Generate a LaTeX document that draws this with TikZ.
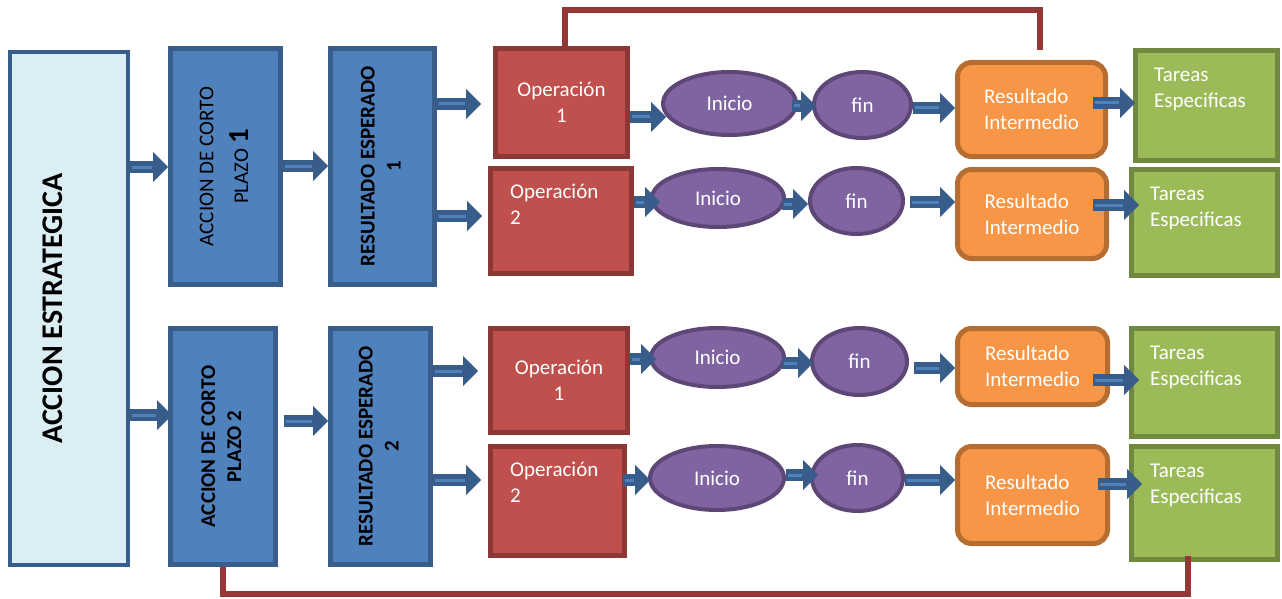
\documentclass[tikz,border=0pt]{standalone}
\usepackage{fontspec}
\setmainfont{Carlito}
\usepackage{graphicx}
\usetikzlibrary{shapes.geometric,arrows.meta}

\definecolor{celeste}{RGB}{219,238,244}
\definecolor{azulborde}{RGB}{56,93,138}
\definecolor{azul}{RGB}{79,129,189}
\definecolor{rojo}{RGB}{192,80,77}
\definecolor{rojoborde}{RGB}{140,56,54}
\definecolor{granate}{RGB}{149,55,53}
\definecolor{morado}{RGB}{128,100,162}
\definecolor{moradoborde}{RGB}{92,71,118}
\definecolor{naranja}{RGB}{247,150,70}
\definecolor{naranjaborde}{RGB}{182,109,49}
\definecolor{verde}{RGB}{155,187,89}
\definecolor{verdeborde}{RGB}{113,137,63}

\newcommand{\letra}{\fontsize{21}{26}\selectfont}
\newcommand{\vertical}[1]{\rotatebox{90}{\begin{tabular}{@{}c@{}}#1\end{tabular}}}

\begin{document}
\begin{tikzpicture} [x=1pt, y=-1pt,
				estrategia/.style={
				% The shape:
				rectangle,
				% The border:
				line width=4pt, draw=azulborde,
				% The filling:
				fill=celeste
				},
				accion/.style={
				% The shape:
				rectangle,
				% The border:
				line width=5pt, draw=azulborde,
				% The filling:
				fill=azul,
				font=\letra
				},
				operacion/.style={
				% The shape:
				rectangle,
				% The border:
				line width=5pt, draw=rojoborde,
				% The filling:
				fill=rojo,
				text=white, align=center, font=\letra
				},
				evento/.style={
				% The shape:
				ellipse, inner sep=0pt,
				% The border:
				line width=4pt, draw=moradoborde,
				% The filling:
				fill=morado,
				text=white, font=\letra
				},
				intermedio/.style={
				% The shape:
				rectangle, rounded corners=14pt,
				% The border:
				line width=5pt, draw=naranjaborde,
				% The filling:
				fill=naranja,
				text=white, align=left, font=\letra
				},
				tarea/.style={
				% The shape:
				rectangle,
				% The border:
				line width=5pt, draw=verdeborde,
				% The filling:
				fill=verde
				},
				etiqueta/.style={anchor=north west, inner sep=0pt, text=white, align=left, font=\letra},
				flecha/.style={draw=azulborde, line width=12pt,
				-{Triangle[length=15pt,width=30pt,line width=0pt]},
				postaction={draw=azul, line width=3pt, -, shorten >=16pt, shorten <=2pt}},
				enlace/.style={draw=granate, line width=6pt}
				]
    \useasboundingbox (0,0) rectangle (1282,599);

    % columna izquierda
    \node[estrategia, minimum width=118pt, minimum height=513pt] (ae) at (69,308.5) {};
    \node[rotate=90, font=\bfseries\fontsize{30}{30}\selectfont] (aetexto) at ([xshift=-16pt]ae.center) {ACCION ESTRATEGICA};

    \node[accion, minimum width=110pt, minimum height=236pt] (ac1) at (225.5,166.5)
        {\vertical{ACCION DE CORTO\\[8pt]PLAZO {\bfseries\fontsize{29}{29}\selectfont 1}}};
    \node[accion, font=\letra\bfseries, minimum width=104pt, minimum height=236pt] (re1) at (382.5,166.5)
        {\vertical{RESULTADO ESPERADO\\1}};
    \node[accion, font=\letra\bfseries, minimum width=105pt, minimum height=236pt] (ac2) at (223,446.5)
        {\vertical{ACCION DE CORTO\\PLAZO 2}};
    \node[accion, font=\letra\bfseries, minimum width=100pt, minimum height=236pt] (re2) at (380.5,446.5)
        {\vertical{RESULTADO ESPERADO\\2}};

    % operaciones
    \node[operacion, minimum width=132pt, minimum height=108pt] (op1) at (561.5,102.5) {Operación\\1};
    \node[operacion, minimum width=141pt, minimum height=105pt] (op2) at (561,221) {};
    \node[etiqueta] (op2texto) at ([shift={(22,18)}]op2.north west) {Operación\\2};
    \node[operacion, minimum width=137pt, minimum height=104pt] (op3) at (559,380.5) {Operación\\1};
    \node[operacion, minimum width=134pt, minimum height=109pt] (op4) at (557.5,501) {};
    \node[etiqueta] (op4texto) at ([shift={(22,18)}]op4.north west) {Operación\\2};

    % inicio y fin
    \node[evento, minimum width=133pt, minimum height=63pt] (ini1) at (729.5,103.5) {Inicio};
    \node[evento, minimum width=97pt, minimum height=66pt] (fin1) at (862.5,105) {fin};
    \node[evento, minimum width=132pt, minimum height=58pt] (ini2) at (718,198) {Inicio};
    \node[evento, minimum width=93pt, minimum height=66pt] (fin2) at (856.5,201) {fin};
    \node[evento, minimum width=133pt, minimum height=59pt] (ini3) at (717.5,357.5) {Inicio};
    \node[evento, minimum width=95pt, minimum height=67pt] (fin3) at (859.5,361.5) {fin};
    \node[evento, minimum width=134pt, minimum height=64pt] (ini4) at (717,478) {Inicio};
    \node[evento, minimum width=91pt, minimum height=66pt] (fin4) at (857.5,478) {fin};

    % resultados intermedios
    \node[intermedio, minimum width=148pt, minimum height=94pt] (ri1) at (1031.5,109.5) {Resultado\\Intermedio};
    \node[intermedio, minimum width=149pt, minimum height=89pt] (ri2) at (1032,214) {Resultado\\Intermedio};
    \node[intermedio, minimum width=150pt, minimum height=76pt] (ri3) at (1032.5,366.5) {Resultado\\Intermedio};
    \node[intermedio, minimum width=150pt, minimum height=97pt] (ri4) at (1032.5,495) {Resultado\\Intermedio};

    % tareas
    \node[tarea, minimum width=142pt, minimum height=110pt] (ta1) at (1206.5,105.5) {};
    \node[etiqueta] (ta1texto) at ([shift={(21,20)}]ta1.north west) {Tareas\\Especificas};
    \node[tarea, minimum width=146pt, minimum height=106pt] (ta2) at (1204.5,222.5) {};
    \node[etiqueta] (ta2texto) at ([shift={(21,20)}]ta2.north west) {Tareas\\Especificas};
    \node[tarea, minimum width=146pt, minimum height=108pt] (ta3) at (1204.5,382.5) {};
    \node[etiqueta] (ta3texto) at ([shift={(21,20)}]ta3.north west) {Tareas\\Especificas};
    \node[tarea, minimum width=146pt, minimum height=113pt] (ta4) at (1204.5,503) {};
    \node[etiqueta] (ta4texto) at ([shift={(21,20)}]ta4.north west) {Tareas\\Especificas};

    % flechas
    \draw[flecha] (ae.east |- 0,167) -- (ac1.west |- 0,167);
    \draw[flecha] (ac1.east |- 0,166) -- (re1.west |- 0,166);
    \draw[flecha] (re1.east |- 0,104) -- ([xshift=-12pt]op1.west |- 0,104);
    \draw[flecha] (re1.east |- 0,216) -- ([xshift=-6pt]op2.west |- 0,216);
    \draw[flecha] (op1.east |- 0,117) -- ([xshift=5pt]ini1.west |- 0,117);
    \draw[flecha] ([xshift=-6pt]ini1.east |- 0,106) -- ([xshift=4pt]fin1.west |- 0,106);
    \draw[flecha] (fin1.east |- 0,108) -- (ri1.west |- 0,108);
    \draw[flecha] ([xshift=-15pt]ri1.east |- 0,103) -- ([xshift=2pt]ta1.west |- 0,103);

    \draw[flecha] (op2.east |- 0,202) -- ([xshift=10pt]ini2.west |- 0,202);
    \draw[flecha] ([xshift=-4pt]ini2.east |- 0,204) -- (fin2.west |- 0,204);
    \draw[flecha] ([xshift=5pt]fin2.east |- 0,202) -- (ri2.west |- 0,202);
    \draw[flecha] ([xshift=-16pt]ri2.east |- 0,205) -- ([xshift=10pt]ta2.west |- 0,205);

    \draw[flecha] (ae.east |- 0,415) -- ([xshift=4pt]ac2.west |- 0,415);
    \draw[flecha] ([xshift=6pt]ac2.east |- 0,421) -- (re2.west |- 0,421);
    \draw[flecha] (re2.east |- 0,371) -- ([xshift=-10pt]op3.west |- 0,371);
    \draw[flecha] (re2.east |- 0,480) -- ([xshift=-7pt]op4.west |- 0,480);
    \draw[flecha] (op3.east |- 0,359) -- ([xshift=7pt]ini3.west |- 0,359);
    \draw[flecha] ([xshift=-4pt]ini3.east |- 0,363) -- ([xshift=3pt]fin3.west |- 0,363);
    \draw[flecha] ([xshift=5pt]fin3.east |- 0,368) -- (ri3.west |- 0,368);
    \draw[flecha] ([xshift=-17pt]ri3.east |- 0,380) -- ([xshift=10pt]ta3.west |- 0,380);

    \draw[flecha] ([xshift=-4pt]op4.east |- 0,480) -- ([xshift=2pt]ini4.west |- 0,480);
    \draw[flecha] (ini4.east |- 0,475) -- ([xshift=8pt]fin4.west |- 0,475);
    \draw[flecha] (fin4.east |- 0,480) -- (ri4.west |- 0,480);
    \draw[flecha] ([xshift=-12pt]ri4.east |- 0,484) -- ([xshift=13pt]ta4.west |- 0,484);

    % enlaces
    \draw[enlace] ([xshift=3pt]op1.north) -- ([xshift=3pt]op1.north |- 0,10) -| ([xshift=8.5pt,yshift=10pt]ri1.north);
    \draw[enlace] (ac2.south) -- (ac2.south |- 0,594) -| ([xshift=-16.5pt,yshift=6.5pt]ta4.south);
\end{tikzpicture}
\end{document}
